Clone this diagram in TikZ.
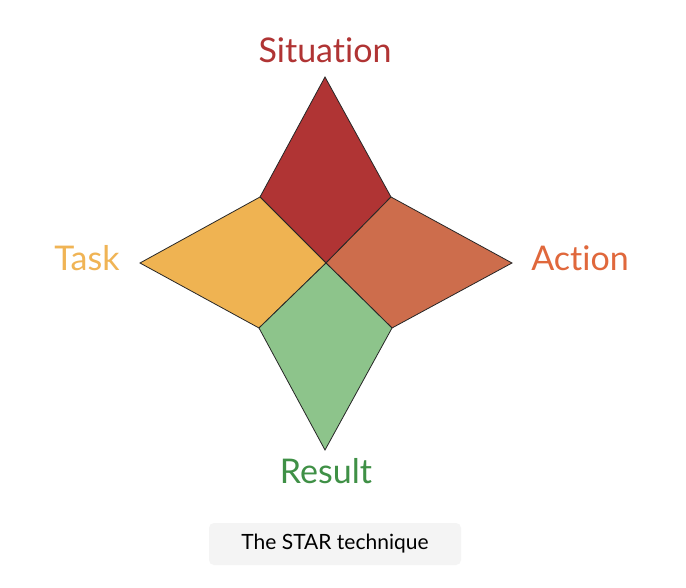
\documentclass[tikz,border=0pt]{standalone}
\usepackage{fontspec}
\setmainfont{Lato}[Ligatures={NoCommon,NoRequired,NoContextual}]
\definecolor{sitc}{HTML}{B03434}
\definecolor{actc}{HTML}{CD6D4C}
\definecolor{taskc}{HTML}{EFB352}
\definecolor{resc}{HTML}{8DC48B}
\definecolor{sitt}{HTML}{B03434}
\definecolor{actt}{HTML}{E0683C}
\definecolor{taskt}{HTML}{F0B455}
\definecolor{rest}{HTML}{3F9046}
\definecolor{capbg}{HTML}{F4F4F4}
\begin{document}
\begin{tikzpicture}[x=1pt,y=-1pt,
  piece/.style={draw=black!85,line width=0.8pt,line join=miter},
  lbl/.style={font=\fontsize{34}{40}\selectfont,inner sep=0pt,anchor=center}]
\useasboundingbox (0,0) rectangle (686,588);
\fill[white] (0,0) rectangle (686,588);
\coordinate (c) at (326,263);
\coordinate (t) at (325,77);
\coordinate (b) at (325,450);
\coordinate (l) at (140,263);
\coordinate (r) at (512,263);
\coordinate (ul) at (260,197);
\coordinate (ur) at (391,197);
\coordinate (ll) at (259,328);
\coordinate (lr) at (392,328);
\draw[piece,fill=sitc] (t) -- (ur) -- (c) -- (ul) -- cycle;
\draw[piece,fill=actc] (r) -- (lr) -- (c) -- (ur) -- cycle;
\draw[piece,fill=taskc] (l) -- (ul) -- (c) -- (ll) -- cycle;
\draw[piece,fill=resc] (b) -- (ll) -- (c) -- (lr) -- cycle;
\node[lbl,text=sitt] (sit) at (325,50) {Situation};
\node[lbl,text=taskt] (task) at (87,258) {Task};
\node[lbl,text=actt] (act) at (580,258) {Action};
\node[lbl,text=rest] (res) at (326,471) {Result};
\node[fill=capbg,rounded corners=5pt,minimum width=252pt,minimum height=42pt,inner sep=0pt,
  font=\fontsize{21}{25}\selectfont,text=black] (cap) at (335,544) {The STAR technique};
\end{tikzpicture}
\end{document}
